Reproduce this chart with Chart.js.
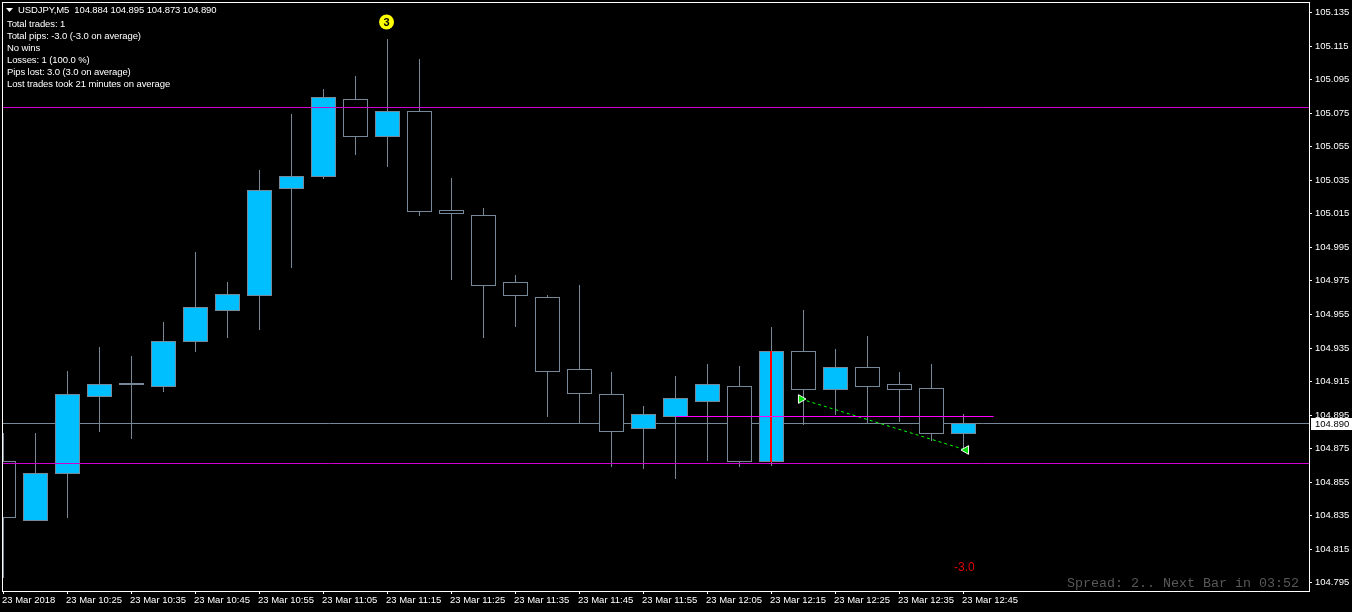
<!DOCTYPE html>
<html>
<head>
<meta charset="utf-8">
<title>USDJPY,M5</title>
<script src="https://cdn.jsdelivr.net/npm/chart.js@4"></script>
<style>
  html, body { margin: 0; background: #000; overflow: hidden; }
  canvas { display: block; }
</style>
</head>
<body>
<canvas id="chart" width="1352" height="612"></canvas>
<script>
// candles, oldest first, 5 minutes apart
const opens = [104.8675, 104.8317, 104.8598, 104.9057, 104.9129, 104.9116, 104.9385, 104.9570, 104.9659, 105.0298, 105.0369,
  105.0834, 105.0608, 105.0763, 105.0172, 105.0143, 104.9743, 104.9653, 104.9224, 104.9075, 104.8866,
  104.8938, 104.9027, 104.9122, 104.8669, 104.9331, 104.9099, 104.9236, 104.9134, 104.9111, 104.8836];
const highs = [104.8842, 104.8842, 104.9212, 104.9355, 104.9301, 104.9504, 104.9922, 104.9743, 105.0411, 105.0745, 105.0894,
  105.0972, 105.1192, 105.1073, 105.0363, 105.0184, 104.9785, 104.9665, 104.9725, 104.9206, 104.9003,
  104.9182, 104.9254, 104.9242, 104.9474, 104.9576, 104.9343, 104.9421, 104.9206, 104.9254, 104.8955];
const lows = [104.7975, 104.8317, 104.8335, 104.8848, 104.8806, 104.9087, 104.9325, 104.9409, 104.9457, 104.9826, 105.0357,
  105.0500, 105.0429, 105.0137, 104.9755, 104.9409, 104.9474, 104.8938, 104.8896, 104.8639, 104.8627,
  104.8568, 104.8675, 104.8639, 104.8645, 104.8890, 104.8950, 104.8896, 104.8908, 104.8794, 104.8735];
const closes = [104.8335, 104.8604, 104.9075, 104.9134, 104.9140, 104.9391, 104.9594, 104.9671, 105.0292, 105.0375, 105.0846,
  105.0608, 105.0763, 105.0160, 105.0148, 104.9719, 104.9659, 104.9206, 104.9075, 104.8848, 104.8955,
  104.9051, 104.9134, 104.8669, 104.9331, 104.9099, 104.9236, 104.9116, 104.9099, 104.8836, 104.8902];

const timeTicks = [0, 2, 4, 6, 8, 10, 12, 14, 16, 18, 20, 22, 24, 26, 28, 30];
const timeLabels = ['23 Mar 2018', '23 Mar 10:25', '23 Mar 10:35', '23 Mar 10:45', '23 Mar 10:55', '23 Mar 11:05',
  '23 Mar 11:15', '23 Mar 11:25', '23 Mar 11:35', '23 Mar 11:45', '23 Mar 11:55', '23 Mar 12:05',
  '23 Mar 12:15', '23 Mar 12:25', '23 Mar 12:35', '23 Mar 12:45'];
const priceTicks = [105.135, 105.115, 105.095, 105.075, 105.055, 105.035, 105.015, 104.995, 104.975,
  104.955, 104.935, 104.915, 104.895, 104.875, 104.855, 104.835, 104.815, 104.795];

const bidPrice = 104.8902;
const stopLevels = [105.0787, 104.8663];
const tradeLevel = 104.8944;
const tradeLevelSpan = [21, 30.94];
const tradeX = [24.92, 30.08];
const tradeY = [104.9042, 104.8738];
const barMarkX = 23.984;
const barMark = [104.8669, 104.9331];
const badgeX = 11.97;
const badgeY = 105.1291;

const titleText = 'USDJPY,M5  104.884 104.895 104.873 104.890';
const infoLines = ['Total trades: 1', 'Total pips: -3.0 (-3.0 on average)', 'No wins', 'Losses: 1 (100.0 %)',
  'Pips lost: 3.0 (3.0 on average)', 'Lost trades took 21 minutes on average'];
const profitText = '-3.0';
const spreadText = 'Spread: 2.. Next Bar in 03:52';

const UI_FONT = '"Liberation Sans", Arial, sans-serif';
const BLUE = '#00bfff';
const SLATE = '#778899';

const indices = opens.map((_, i) => i);

// texts, border and the horizontal levels
const overlay = {
  id: 'overlay',
  beforeDatasetsDraw(chart) {
    const { ctx, chartArea, scales } = chart;
    ctx.save();
    ctx.strokeStyle = SLATE;
    ctx.lineWidth = 1;
    const y = scales.y.getPixelForValue(bidPrice) + 0.5;
    ctx.beginPath();
    ctx.moveTo(chartArea.left, y);
    ctx.lineTo(chartArea.right, y);
    ctx.stroke();
    ctx.restore();
  },
  afterDatasetsDraw(chart) {
    const { ctx, chartArea, scales } = chart;
    ctx.save();
    ctx.lineWidth = 1;
    ctx.strokeStyle = '#d000d0';
    stopLevels.forEach(v => {
      const y = scales.y.getPixelForValue(v) + 0.5;
      ctx.beginPath();
      ctx.moveTo(chartArea.left, y);
      ctx.lineTo(chartArea.right, y);
      ctx.stroke();
    });
    ctx.strokeStyle = '#ff00ff';
    const ty = scales.y.getPixelForValue(tradeLevel) + 0.5;
    ctx.beginPath();
    ctx.moveTo(scales.x.getPixelForValue(tradeLevelSpan[0]), ty);
    ctx.lineTo(scales.x.getPixelForValue(tradeLevelSpan[1]), ty);
    ctx.stroke();
    ctx.restore();
  },
  afterDraw(chart) {
    const { ctx, chartArea, scales } = chart;
    ctx.save();
    // frame
    ctx.strokeStyle = '#fff';
    ctx.lineWidth = 1;
    ctx.strokeRect(chartArea.left - 0.5, chartArea.top - 0.5,
      chartArea.right - chartArea.left + 1, chartArea.bottom - chartArea.top + 1);

    // top left block
    ctx.textBaseline = 'middle';
    ctx.textAlign = 'left';
    ctx.fillStyle = '#fff';
    ctx.beginPath();
    ctx.moveTo(6, 8);
    ctx.lineTo(13, 8);
    ctx.lineTo(9.5, 12);
    ctx.closePath();
    ctx.fill();
    ctx.font = '9.5px ' + UI_FONT;
    ctx.letterSpacing = '-0.1px';
    ctx.fillText(titleText, 18, 10.5);
    infoLines.forEach((line, i) => ctx.fillText(line, 7, 24 + i * 12));
    ctx.letterSpacing = '0px';

    // badge digit
    ctx.fillStyle = '#000';
    ctx.font = 'bold 11px ' + UI_FONT;
    ctx.textAlign = 'center';
    ctx.fillText('3', scales.x.getPixelForValue(badgeX), scales.y.getPixelForValue(badgeY) + 0.5);

    // current price tag
    const py = scales.y.getPixelForValue(bidPrice);
    ctx.fillStyle = '#fff';
    ctx.fillRect(1311, py - 5, 41, 12);
    ctx.fillStyle = '#000';
    ctx.textAlign = 'left';
    ctx.font = '9.5px ' + UI_FONT;
    ctx.fillText('104.890', 1315, py + 1);

    // profit and spread
    ctx.fillStyle = '#e00000';
    ctx.font = '12px ' + UI_FONT;
    ctx.fillText(profitText, 954, 568);
    ctx.fillStyle = '#585858';
    ctx.font = '13.33px "Liberation Mono", monospace';
    ctx.fillText(spreadText, 1067, 583);
    ctx.restore();
  }
};

new Chart(document.getElementById('chart').getContext('2d'), {
  type: 'bar',
  data: {
    datasets: [
      {
        label: 'Wicks',
        order: 3,
        grouped: false,
        barThickness: 1,
        borderWidth: 0,
        inflateAmount: 0,
        backgroundColor: SLATE,
        data: indices.map(i => ({ x: i, y: [lows[i], highs[i]] }))
      },
      {
        label: 'Bodies',
        order: 2,
        grouped: false,
        barThickness: 25,
        borderWidth: 1,
        borderSkipped: false,
        inflateAmount: 0,
        borderColor: SLATE,
        backgroundColor: indices.map(i => closes[i] >= opens[i] ? BLUE : '#000'),
        data: indices.map(i => ({ x: i, y: [opens[i], closes[i]] }))
      },
      {
        label: 'Bar mark',
        order: 1,
        grouped: false,
        barThickness: 2,
        borderWidth: 0,
        inflateAmount: 0,
        backgroundColor: '#ff0000',
        data: [{ x: barMarkX, y: barMark }]
      },
      {
        type: 'line',
        label: 'Trade',
        order: 0,
        borderColor: '#00ff00',
        borderWidth: 1,
        borderDash: [3, 3],
        fill: false,
        pointStyle: 'triangle',
        pointRotation: [90, -90],
        pointRadius: 5,
        pointBackgroundColor: '#00e000',
        pointBorderColor: '#fff',
        pointBorderWidth: 1,
        data: tradeX.map((x, i) => ({ x, y: tradeY[i] }))
      },
      {
        type: 'line',
        label: 'Badge',
        order: 0,
        showLine: false,
        pointStyle: 'circle',
        pointRadius: 7.5,
        pointBorderWidth: 0,
        pointBackgroundColor: '#ffff00',
        data: [{ x: badgeX, y: badgeY }]
      }
    ]
  },
  options: {
    responsive: false,
    animation: false,
    layout: { autoPadding: false, padding: { left: 3, top: 3, right: 0, bottom: 0 } },
    plugins: { legend: { display: false }, tooltip: { enabled: false } },
    scales: {
      x: {
        type: 'linear',
        offset: false,
        min: -0.015625,
        max: 40.796875,
        border: { display: false },
        grid: { offset: false, drawOnChartArea: false, color: '#fff', tickColor: '#fff', tickLength: 3 },
        ticks: {
          color: '#fff',
          align: 'start',
          padding: 1,
          labelOffset: -1.5,
          maxRotation: 0,
          autoSkip: false,
          font: { family: UI_FONT, size: 9.5 },
          callback: v => timeLabels[timeTicks.indexOf(v)]
        },
        afterBuildTicks: s => { s.ticks = timeTicks.map(value => ({ value })); },
        afterFit: s => {
          s.height = 21;
          s.paddingLeft = s.paddingRight = s.paddingTop = s.paddingBottom = 0;
        }
      },
      y: {
        type: 'linear',
        position: 'right',
        min: 104.78997,
        max: 105.14071,
        border: { display: false },
        grid: { drawOnChartArea: false, color: '#fff', tickColor: '#fff', tickLength: 3 },
        ticks: {
          color: '#fff',
          padding: 3,
          autoSkip: false,
          font: { family: UI_FONT, size: 9.5 },
          callback: v => v.toFixed(3)
        },
        afterBuildTicks: s => {
          s.ticks = priceTicks.map(value => ({ value }));
          // snap prices to whole pixel rows, the way the terminal draws them
          const base = Chart.LinearScale.prototype.getPixelForValue;
          s.getPixelForValue = v => Math.round(base.call(s, v) - 0.35);
        },
        afterFit: s => {
          s.width = 43;
          s.paddingLeft = s.paddingRight = s.paddingTop = s.paddingBottom = 0;
        }
      }
    }
  },
  plugins: [overlay]
});
</script>
</body>
</html>
